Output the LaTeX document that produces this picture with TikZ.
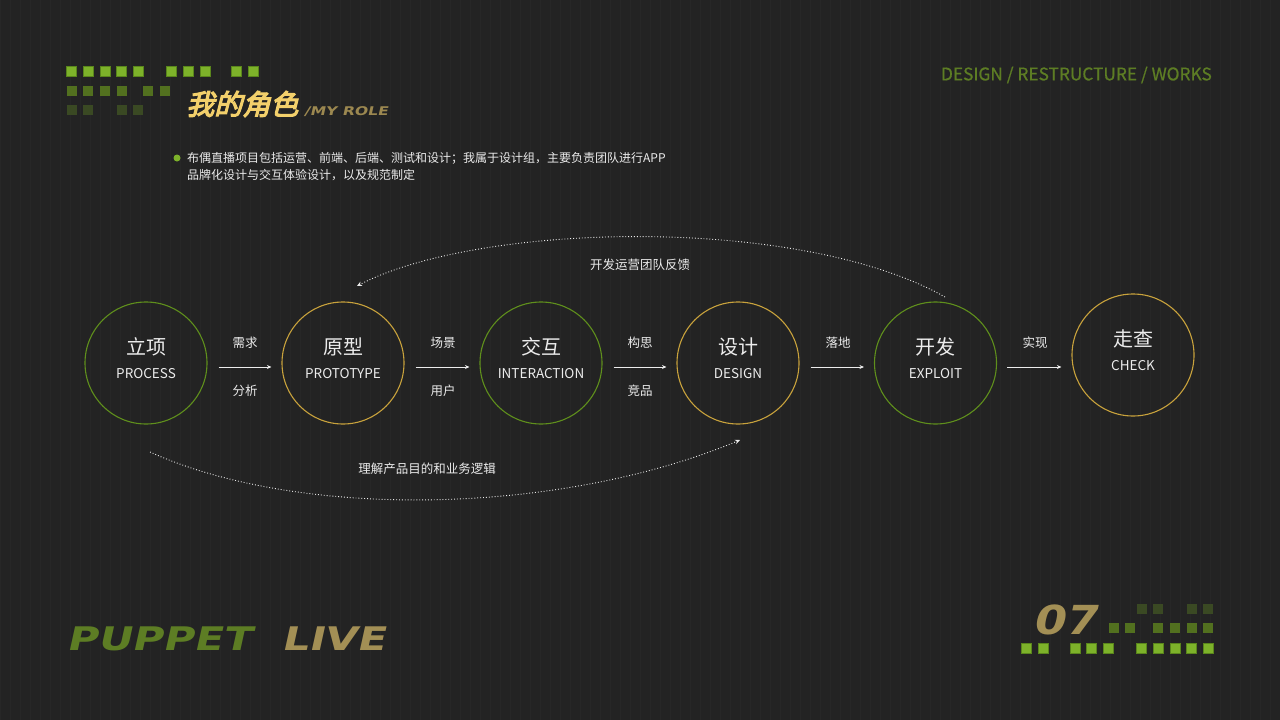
\documentclass[tikz,border=0pt]{standalone}
\usepackage{fontspec}
\setmainfont{Noto Sans}
\newfontfamily\cjk{Noto Sans CJK SC}
\newfontfamily\cjkmed[FakeBold=0.8]{Noto Sans CJK SC}
\newfontfamily\titlefont[FakeSlant=0.25,FakeBold=4]{Noto Sans CJK SC}
\newfontfamily\logofont[FakeStretch=1.3,FakeSlant=0.22]{DejaVu Sans}
\newfontfamily\numfont[FakeStretch=1.15,FakeSlant=0.22]{DejaVu Sans}
\usetikzlibrary{arrows.meta}
\definecolor{bg}{HTML}{232323}
\definecolor{gridc}{HTML}{272727}
\definecolor{sqA}{HTML}{7DB22A}
\definecolor{sqAd}{HTML}{5A861C}
\definecolor{sqB}{HTML}{52701F}
\definecolor{sqC}{HTML}{3A4923}
\definecolor{ttl}{HTML}{F3D06B}
\definecolor{tan}{HTML}{A38F55}
\definecolor{rolec}{HTML}{9C8850}
\definecolor{hdr}{HTML}{5D7D24}
\definecolor{cgreen}{HTML}{5F8F1C}
\definecolor{cgold}{HTML}{C8A23C}
\definecolor{txt}{HTML}{ECECEC}
\tikzset{
  stage/.style={circle, minimum size=122pt, inner sep=0pt, line width=1.1pt},
  zh/.style={font=\cjk\fontsize{20}{24}\selectfont, text=txt, inner sep=0pt},
  en/.style={font=\cjk\fontsize{13.5}{16}\selectfont, text=txt, inner sep=0pt},
  lab/.style={font=\cjk\fontsize{12.5}{15}\selectfont, text=txt, inner sep=0pt},
  body/.style={font=\cjk\fontsize{12}{15}\selectfont, text=txt, inner sep=0pt, anchor=west},
  flow/.style={draw=txt, line width=0.8pt, -{Stealth[length=4.5pt,width=4pt]}},
  fb/.style={draw=txt, dotted, line width=0.9pt, -{Stealth[length=5pt,width=4.5pt]}},
  sqa/.style={fill=sqA, draw=sqAd, line width=0.6pt},
  sqb/.style={fill=sqB},
  sqc/.style={fill=sqC},
}
\begin{document}
\begin{tikzpicture}[x=1pt,y=-1pt]
\fill[bg] (0,0) rectangle (1280,720);
\useasboundingbox (0,0) rectangle (1280,720);
\draw[gridc, line width=0.6pt, step=10] (0,0) grid (1280,720);

% top-left squares
\foreach \x in {66.7,83.3,100,116.7,133.3,166.7,183.3,200,231.7,248.3}
  \path[sqa] (\x,66.7) rectangle ++(10,10);
\foreach \x in {66.7,83.3,100,116.7,143.3,160}
  \path[sqb] (\x,86) rectangle ++(10,10);
\foreach \x in {66.7,83.3,116.7,133.3}
  \path[sqc] (\x,105) rectangle ++(10,10);

% title
\node[anchor=west, inner sep=0pt, text=ttl, font=\titlefont\fontsize{28}{30}\selectfont] (title) at (186,104) {我的角色};
\node[anchor=base west, inner sep=0pt, text=rolec, font=\logofont\bfseries\fontsize{12}{14}\selectfont] (role) at (304,115) {/MY ROLE};

% header
\node[anchor=east, inner sep=0pt, text=hdr, font=\cjkmed\fontsize{17.3}{20}\selectfont] (hdr) at (1212,75) {DESIGN / RESTRUCTURE / WORKS};

% bullet text
\node[circle, fill=sqA, minimum size=7pt, inner sep=0pt] (bul) at (177,158) {};
\node[body] (b1) at (187,158) {布偶直播项目包括运营、前端、后端、测试和设计；我属于设计组，主要负责团队进行APP};
\node[body] (b2) at (187,175) {品牌化设计与交互体验设计，以及规范制定};

% stages
\node[stage, draw=cgreen] (c1) at (146,363) {};
\node[stage, draw=cgold]  (c2) at (343,363) {};
\node[stage, draw=cgreen] (c3) at (541,363) {};
\node[stage, draw=cgold]  (c4) at (738,363) {};
\node[stage, draw=cgreen] (c5) at (935.5,363) {};
\node[stage, draw=cgold]  (c6) at (1133,355) {};

\node[zh] (c1zh) at (146,347) {立项};
\node[en] (c1en) at (146,374) {PROCESS};
\node[zh] (c2zh) at (343,347) {原型};
\node[en] (c2en) at (343,374) {PROTOTYPE};
\node[zh] (c3zh) at (541,347) {交互};
\node[en] (c3en) at (541,374) {INTERACTION};
\node[zh] (c4zh) at (738,347) {设计};
\node[en] (c4en) at (738,374) {DESIGN};
\node[zh] (c5zh) at (935.5,347) {开发};
\node[en] (c5en) at (935.5,374) {EXPLOIT};
\node[zh] (c6zh) at (1133,339) {走查};
\node[en] (c6en) at (1133,366) {CHECK};

% flow arrows
\draw[flow] ([shift={(11,4)}]c1.east) -- ([shift={(-10,4)}]c2.west);
\draw[flow] ([shift={(11,4)}]c2.east) -- ([shift={(-10,4)}]c3.west);
\draw[flow] ([shift={(11,4)}]c3.east) -- ([shift={(-10,4)}]c4.west);
\draw[flow] ([shift={(11,4)}]c4.east) -- ([shift={(-10,4)}]c5.west);
\draw[flow] ([shift={(10,4)}]c5.east) -- ([shift={(-10,12)}]c6.west);

\node[lab] (l1a) at (245,343) {需求};
\node[lab] (l1b) at (245,391) {分析};
\node[lab] (l2a) at (443,343) {场景};
\node[lab] (l2b) at (443,391) {用户};
\node[lab] (l3a) at (640,343) {构思};
\node[lab] (l3b) at (640,391) {竞品};
\node[lab] (l4a) at (838,343) {落地};
\node[lab] (l5a) at (1035,343) {实现};

% feedback arcs
\coordinate (fbS) at (945,297);
\coordinate (fbE) at (357,286);
\draw[fb] (fbS) .. controls (800,215) and (480,222) .. (fbE);
\node[lab] (fbl) at (640,265) {开发运营团队反馈};

\coordinate (ulS) at (150,452);
\coordinate (ulE) at (740,440);
\draw[fb] (ulS) .. controls (300,520) and (560,515) .. (ulE);
\node[lab] (ull) at (427,469) {理解产品目的和业务逻辑};

% bottom-left logo
\node[anchor=base west, inner sep=0pt, text=hdr, font=\logofont\bfseries\fontsize{32.5}{34}\selectfont] (pup) at (66,650) {PUPPET};
\node[anchor=base west, inner sep=0pt, text=tan, font=\logofont\bfseries\fontsize{32.5}{34}\selectfont] (live) at (281,650) {LIVE};

% bottom-right
\node[anchor=base west, inner sep=0pt, text=tan, font=\numfont\bfseries\fontsize{40}{42}\selectfont] (num) at (1032,634) {07};
\foreach \x in {1021.7,1038.3,1070,1086.7,1103.3,1136.7,1153.3,1170,1186.7,1203.3}
  \path[sqa] (\x,643) rectangle ++(10,10);
\foreach \x in {1109,1125,1153.3,1170,1186.7,1203.3}
  \path[sqb] (\x,623.3) rectangle ++(10,10);
\foreach \x in {1136.7,1153.3,1186.7,1203.3}
  \path[sqc] (\x,604.3) rectangle ++(10,10);
\end{tikzpicture}
\end{document}
